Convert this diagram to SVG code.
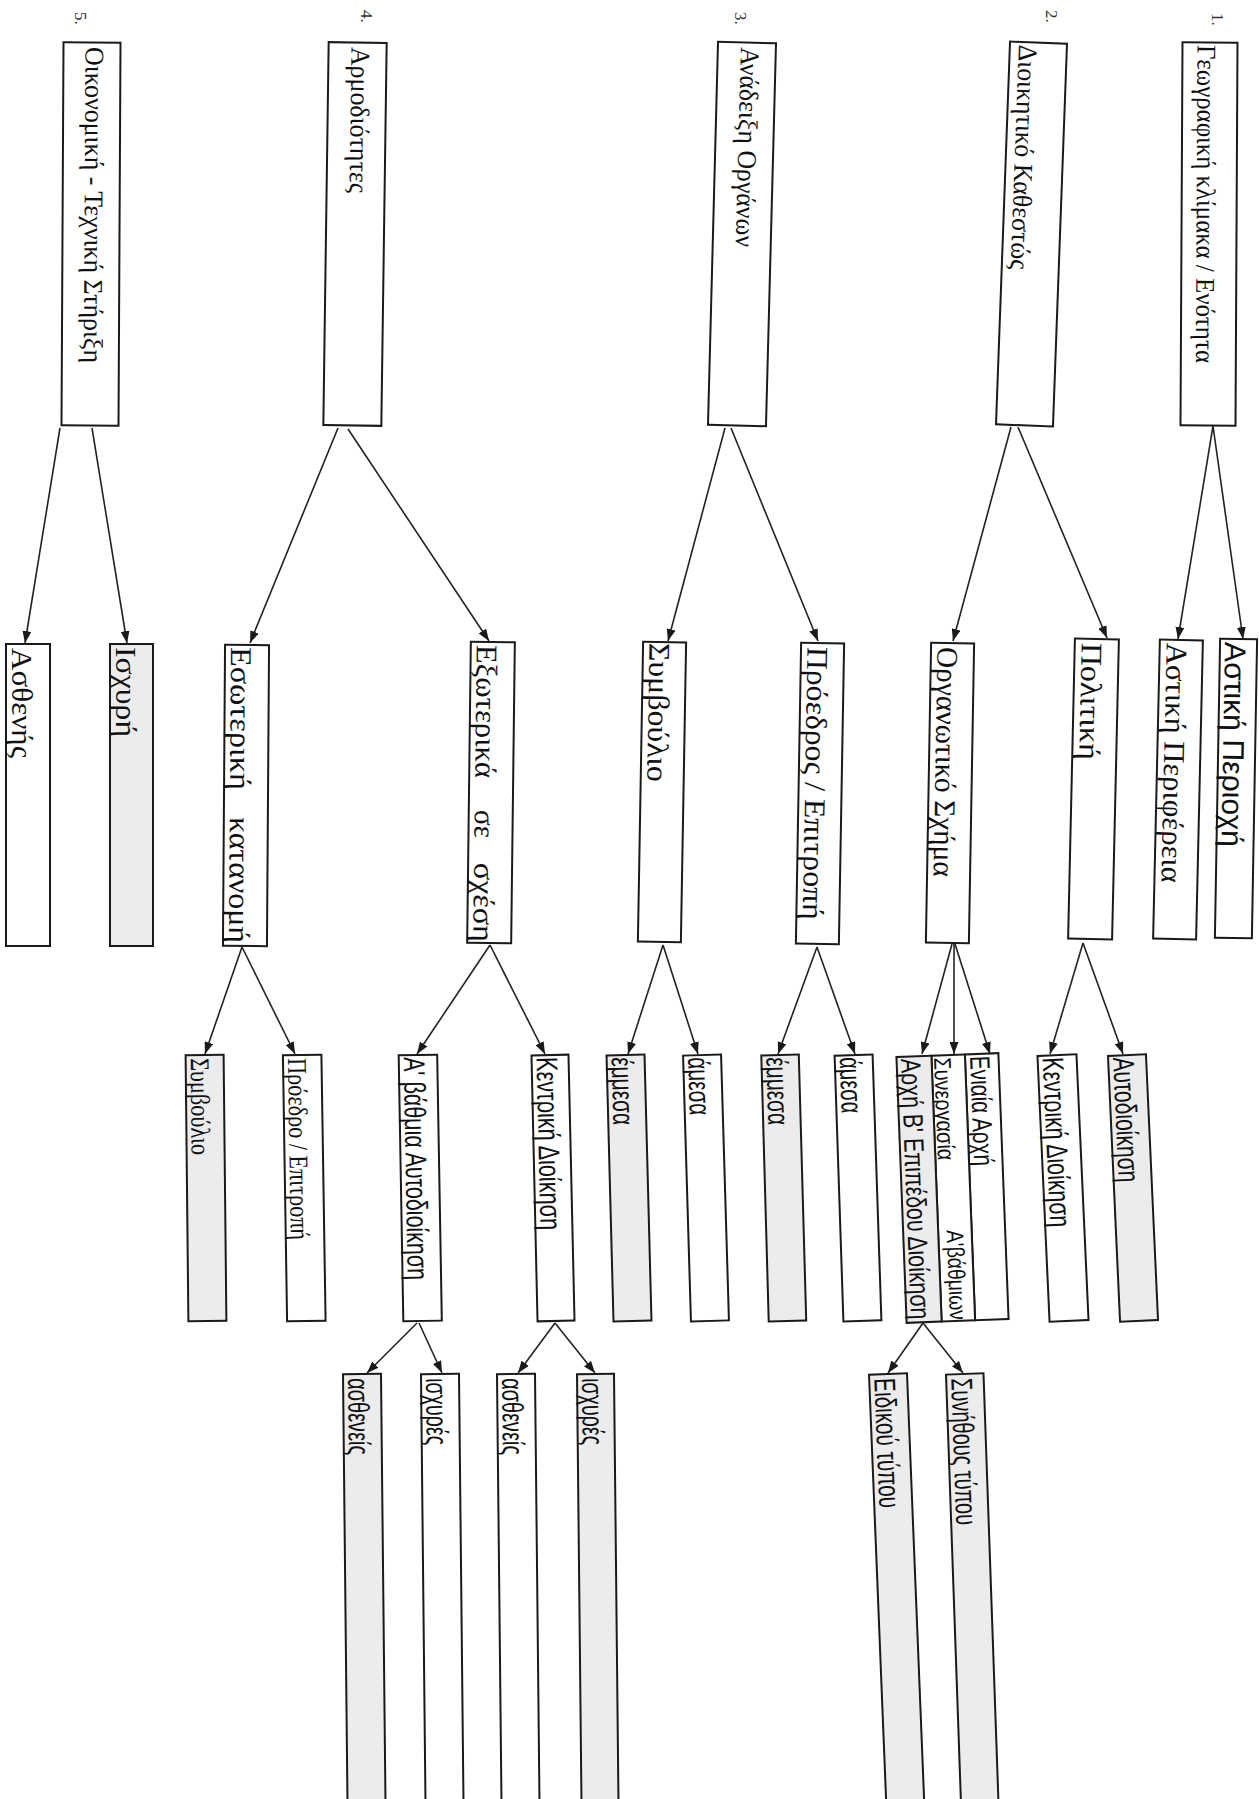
<svg xmlns="http://www.w3.org/2000/svg" width="1259" height="1799" viewBox="0 0 1259 1799">
<defs>
<marker id="arr" viewBox="0 0 12 9" refX="12" refY="4.5" markerWidth="12" markerHeight="9" markerUnits="userSpaceOnUse" orient="auto">
<path d="M0,0 L12,4.5 L0,9 z" fill="#1a1a1a"/>
</marker>
<style>
.box{fill:#fff;stroke:#1a1a1a;stroke-width:2}
.gray{fill:#ececec}
.serif{font-family:"Liberation Serif","DejaVu Serif",serif;fill:#111}
.narrow{font-family:"Liberation Sans Narrow","Liberation Sans","DejaVu Sans Condensed",sans-serif;fill:#111}
.num{font-family:"Liberation Serif",serif;font-size:17px;fill:#333}
.conn line{stroke:#222;stroke-width:1.6;marker-end:url(#arr)}
</style>
</defs>
<rect width="1259" height="1799" fill="#fff"/>

<!-- numbers -->
<g id="numbers">
<text class="num" transform="translate(1212 13) rotate(90)">1.</text>
<text class="num" transform="translate(1046 10) rotate(90)">2.</text>
<text class="num" transform="translate(735 12) rotate(90)">3.</text>
<text class="num" transform="translate(361 10) rotate(90)">4.</text>
<text class="num" transform="translate(75 12) rotate(90)">5.</text>
</g>

<!-- Level 1 -->
<g id="n1" transform="rotate(0.3 1209 234)">
<rect class="box" x="1181.5" y="42.5" width="55" height="383"/>
<text class="serif" font-size="27" transform="translate(1196.5 45) rotate(90)" textLength="318" lengthAdjust="spacingAndGlyphs">Γεωγραφική κλίμακα / Ενότητα</text>
</g>
<g id="n2" transform="rotate(2.1 1031.5 234)">
<rect class="box" x="1003" y="42.5" width="57" height="383"/>
<text class="serif" font-size="27" transform="translate(1012 45) rotate(90)" textLength="225" lengthAdjust="spacingAndGlyphs">Διοικητικό Καθεστώς</text>
</g>
<g id="n3" transform="rotate(1.5 742 234)">
<rect class="box" x="713" y="42.5" width="58" height="383"/>
<text class="serif" font-size="27" transform="translate(736 47) rotate(90)" textLength="200" lengthAdjust="spacingAndGlyphs">Ανάδειξη Οργάνων</text>
</g>
<g id="n4" transform="rotate(0.8 355 234)">
<rect class="box" x="326" y="42.5" width="58" height="383"/>
<text class="serif" font-size="27" transform="translate(349 47) rotate(90)" textLength="146" lengthAdjust="spacingAndGlyphs">Αρμοδιότητες</text>
</g>
<g id="n5" transform="rotate(0.3 91 234)">
<rect class="box" x="62.5" y="42.5" width="57" height="383"/>
<text class="serif" font-size="27" transform="translate(84.5 47) rotate(90)" textLength="316" lengthAdjust="spacingAndGlyphs">Οικονομική - Τεχνική Στήριξη</text>
</g>

<!-- Level 2 -->
<g id="astiki-periochi" transform="rotate(1.0 1236 788.5)">
<rect class="box" x="1217.5" y="639" width="37" height="299"/>
<text class="narrow" font-size="30" transform="translate(1222.5 642) rotate(90)" textLength="205" lengthAdjust="spacingAndGlyphs">Αστική Περιοχή</text>
</g>
<g id="astiki-perifereia" transform="rotate(1.3 1178 789.5)">
<rect class="box" x="1156.5" y="640" width="43" height="299"/>
<text class="serif" font-size="30" transform="translate(1163.5 643) rotate(90)" textLength="240" lengthAdjust="spacingAndGlyphs">Αστική Περιφέρεια</text>
</g>
<g id="politiki" transform="rotate(1.3 1093.5 789)">
<rect class="box" x="1071.5" y="639" width="44" height="300"/>
<text class="serif" font-size="30" transform="translate(1078.5 643) rotate(90)" textLength="117" lengthAdjust="spacingAndGlyphs">Πολιτική</text>
</g>
<g id="organotiko" transform="rotate(1.0 950 793)">
<rect class="box" x="928.5" y="643" width="43" height="300"/>
<text class="serif" font-size="30" transform="translate(935 647) rotate(90)" textLength="230" lengthAdjust="spacingAndGlyphs">Οργανωτικό Σχήμα</text>
</g>
<g id="proedros" transform="rotate(1.0 820 793.5)">
<rect class="box" x="798.5" y="643" width="43" height="301"/>
<text class="serif" font-size="30" transform="translate(805 647) rotate(90)" textLength="273" lengthAdjust="spacingAndGlyphs">Πρόεδρος / Επιτροπή</text>
</g>
<g id="symvoulio" transform="rotate(1.0 662 792)">
<rect class="box" x="640.5" y="642" width="43" height="300"/>
<text class="serif" font-size="30" transform="translate(647 643) rotate(90)" textLength="139" lengthAdjust="spacingAndGlyphs">Συμβούλιο</text>
</g>
<g id="exoterika" transform="rotate(0.7 491 792.5)">
<rect class="box" x="469" y="642" width="44" height="301"/>
<text class="serif" font-size="30" transform="translate(475 645) rotate(90)" textLength="133" lengthAdjust="spacingAndGlyphs">Εξωτερικά</text>
<text class="serif" font-size="30" transform="translate(475 810) rotate(90)" textLength="28" lengthAdjust="spacingAndGlyphs">σε</text>
<text class="serif" font-size="30" transform="translate(475 863) rotate(90)" textLength="79" lengthAdjust="spacingAndGlyphs">σχέση</text>
</g>
<g id="esoteriki" transform="rotate(0.4 246 795.5)">
<rect class="box" x="224" y="645" width="44" height="301"/>
<text class="serif" font-size="30" transform="translate(230 647) rotate(90)" textLength="143" lengthAdjust="spacingAndGlyphs">Εσωτερική</text>
<text class="serif" font-size="30" transform="translate(230 817) rotate(90)" textLength="126" lengthAdjust="spacingAndGlyphs">κατανομή</text>
</g>
<g id="ischyri">
<rect class="box gray" x="110" y="644" width="43" height="302"/>
<text class="serif" font-size="30" transform="translate(116 647) rotate(90)" textLength="90" lengthAdjust="spacingAndGlyphs">Ισχυρή</text>
</g>
<g id="asthenis">
<rect class="box" x="6" y="644" width="44" height="302"/>
<text class="serif" font-size="30" transform="translate(12 648) rotate(90)" textLength="110" lengthAdjust="spacingAndGlyphs">Ασθενής</text>
</g>

<!-- Level 3 -->
<g id="aftodioikisi" transform="rotate(-2.6 1133 1188)">
<rect class="box gray" x="1114" y="1055" width="38" height="266"/>
<text class="narrow" font-size="30" transform="translate(1119 1057) rotate(90)" textLength="125" lengthAdjust="spacingAndGlyphs">Αυτοδιοίκηση</text>
</g>
<g id="kentriki-dioikisi-1" transform="rotate(-2.6 1063 1188)">
<rect class="box" x="1043.5" y="1055" width="39" height="266"/>
<text class="narrow" font-size="30" transform="translate(1048.5 1057) rotate(90)" textLength="170" lengthAdjust="spacingAndGlyphs">Κεντρική Διοίκηση</text>
</g>
<g id="eniaia-archi" transform="rotate(-2.2 953 1188)">
<rect class="box" x="970" y="1055" width="33.5" height="266"/>
<text class="narrow" font-size="28" transform="translate(975 1057) rotate(90)" textLength="110" lengthAdjust="spacingAndGlyphs">Ενιαία Αρχή</text>
</g>
<g id="synergasia" transform="rotate(-2.2 953 1188)">
<rect class="box" x="936.5" y="1055" width="33.5" height="266"/>
<text class="narrow" font-size="24" transform="translate(939 1057) rotate(90)" textLength="103" lengthAdjust="spacingAndGlyphs">Συνεργασία</text>
<text class="narrow" font-size="24" transform="translate(945 1230) rotate(90)" textLength="90" lengthAdjust="spacingAndGlyphs">Α'βάθμιων</text>
</g>
<g id="archi-v" transform="rotate(-2.2 953 1188)">
<rect class="box gray" x="901.5" y="1055" width="35" height="266"/>
<text class="narrow" font-size="28" transform="translate(906 1057) rotate(90)" textLength="261" lengthAdjust="spacingAndGlyphs">Αρχή Β' Επιπέδου Διοίκηση</text>
</g>
<g id="amesa-1" transform="rotate(-1.9 858 1188)">
<rect class="box" x="839" y="1055" width="38" height="266"/>
<text class="narrow" font-size="30" transform="translate(844 1057) rotate(90)" textLength="56" lengthAdjust="spacingAndGlyphs">άμεσα</text>
</g>
<g id="emmesa-1" transform="rotate(-1.6 784 1188)">
<rect class="box gray" x="765" y="1055" width="37.5" height="266"/>
<text class="narrow" font-size="30" transform="translate(770 1057) rotate(90)" textLength="68" lengthAdjust="spacingAndGlyphs">έμμεσα</text>
</g>
<g id="amesa-2" transform="rotate(-1.7 706 1188)">
<rect class="box" x="687" y="1055" width="38" height="266"/>
<text class="narrow" font-size="30" transform="translate(692 1057) rotate(90)" textLength="58" lengthAdjust="spacingAndGlyphs">άμεσα</text>
</g>
<g id="emmesa-2" transform="rotate(-1.5 629 1188)">
<rect class="box gray" x="610" y="1055" width="38" height="266"/>
<text class="narrow" font-size="30" transform="translate(615 1057) rotate(90)" textLength="68" lengthAdjust="spacingAndGlyphs">έμμεσα</text>
</g>
<g id="kentriki-dioikisi-2" transform="rotate(-1.3 553 1188)">
<rect class="box" x="534.5" y="1055" width="37" height="266"/>
<text class="narrow" font-size="30" transform="translate(539.5 1057) rotate(90)" textLength="173" lengthAdjust="spacingAndGlyphs">Κεντρική Διοίκηση</text>
</g>
<g id="a-vathmia" transform="rotate(-1.0 420 1188)">
<rect class="box" x="401" y="1055" width="38.5" height="266"/>
<text class="narrow" font-size="30" transform="translate(406 1057) rotate(90)" textLength="223" lengthAdjust="spacingAndGlyphs">Α' βάθμια Αυτοδιοίκηση</text>
</g>
<g id="proedro" transform="rotate(-0.9 304 1188)">
<rect class="box" x="285" y="1055" width="38.5" height="266"/>
<text class="serif" font-size="27" transform="translate(290 1058) rotate(90)" textLength="182" lengthAdjust="spacingAndGlyphs">Πρόεδρο / Επιτροπή</text>
</g>
<g id="symvoulio-2" transform="rotate(-0.6 206 1188)">
<rect class="box gray" x="187" y="1055" width="38" height="266"/>
<text class="serif" font-size="27" transform="translate(192 1058) rotate(90)" textLength="97" lengthAdjust="spacingAndGlyphs">Συμβούλιο</text>
</g>

<!-- Level 4 -->
<g id="eidikou" transform="rotate(-2.3 888 1374)">
<rect class="box gray" x="869" y="1374" width="38" height="460"/>
<text class="narrow" font-size="30" transform="translate(874 1378) rotate(90)" textLength="130" lengthAdjust="spacingAndGlyphs">Ειδικού τύπου</text>
</g>
<g id="synithous" transform="rotate(-2.0 964.5 1374)">
<rect class="box gray" x="946" y="1374" width="37.5" height="460"/>
<text class="narrow" font-size="30" transform="translate(951 1378) rotate(90)" textLength="147" lengthAdjust="spacingAndGlyphs">Συνήθους τύπου</text>
</g>
<g id="astheneis-1" transform="rotate(-0.6 362 1374)">
<rect class="box gray" x="343" y="1374" width="38" height="460"/>
<text class="narrow" font-size="30" transform="translate(348 1378) rotate(90)" textLength="77" lengthAdjust="spacingAndGlyphs">ασθενείς</text>
</g>
<g id="ischyres-1" transform="rotate(-0.6 440 1374)">
<rect class="box" x="421" y="1374" width="38" height="460"/>
<text class="narrow" font-size="30" transform="translate(426 1378) rotate(90)" textLength="67" lengthAdjust="spacingAndGlyphs">ισχυρές</text>
</g>
<g id="astheneis-2" transform="rotate(-0.6 516 1374)">
<rect class="box" x="497" y="1374" width="38" height="460"/>
<text class="narrow" font-size="30" transform="translate(502 1378) rotate(90)" textLength="77" lengthAdjust="spacingAndGlyphs">ασθενείς</text>
</g>
<g id="ischyres-2" transform="rotate(-0.6 595.5 1374)">
<rect class="box gray" x="577" y="1374" width="37" height="460"/>
<text class="narrow" font-size="30" transform="translate(582 1378) rotate(90)" textLength="67" lengthAdjust="spacingAndGlyphs">ισχυρές</text>
</g>

<!-- Connectors -->
<g id="connectors" class="conn">
<line x1="1213" y1="426" x2="1243" y2="639"/>
<line x1="1213" y1="426" x2="1178" y2="639"/>
<line x1="1018" y1="427" x2="1107" y2="638"/>
<line x1="1011" y1="427" x2="953" y2="641"/>
<line x1="725" y1="428" x2="668" y2="641"/>
<line x1="731" y1="428" x2="818" y2="641"/>
<line x1="338" y1="428" x2="250" y2="643"/>
<line x1="348" y1="429" x2="489" y2="641"/>
<line x1="60" y1="428" x2="25" y2="643"/>
<line x1="92" y1="428" x2="127" y2="643"/>
<line x1="1083" y1="943" x2="1050" y2="1054"/>
<line x1="1083" y1="943" x2="1123" y2="1054"/>
<line x1="952" y1="944" x2="922" y2="1054"/>
<line x1="954" y1="944" x2="954" y2="1054"/>
<line x1="955" y1="944" x2="990" y2="1054"/>
<line x1="817" y1="947" x2="778" y2="1054"/>
<line x1="817" y1="947" x2="855" y2="1054"/>
<line x1="663" y1="945" x2="628" y2="1054"/>
<line x1="663" y1="945" x2="698" y2="1054"/>
<line x1="490" y1="945" x2="417" y2="1054"/>
<line x1="490" y1="945" x2="545" y2="1054"/>
<line x1="242" y1="947" x2="205" y2="1054"/>
<line x1="242" y1="947" x2="295" y2="1054"/>
<line x1="923" y1="1323" x2="888" y2="1373"/>
<line x1="923" y1="1323" x2="963" y2="1373"/>
<line x1="417" y1="1323" x2="367" y2="1373"/>
<line x1="419" y1="1323" x2="442" y2="1373"/>
<line x1="555" y1="1323" x2="518" y2="1373"/>
<line x1="555" y1="1323" x2="595" y2="1373"/>
</g>
</svg>
